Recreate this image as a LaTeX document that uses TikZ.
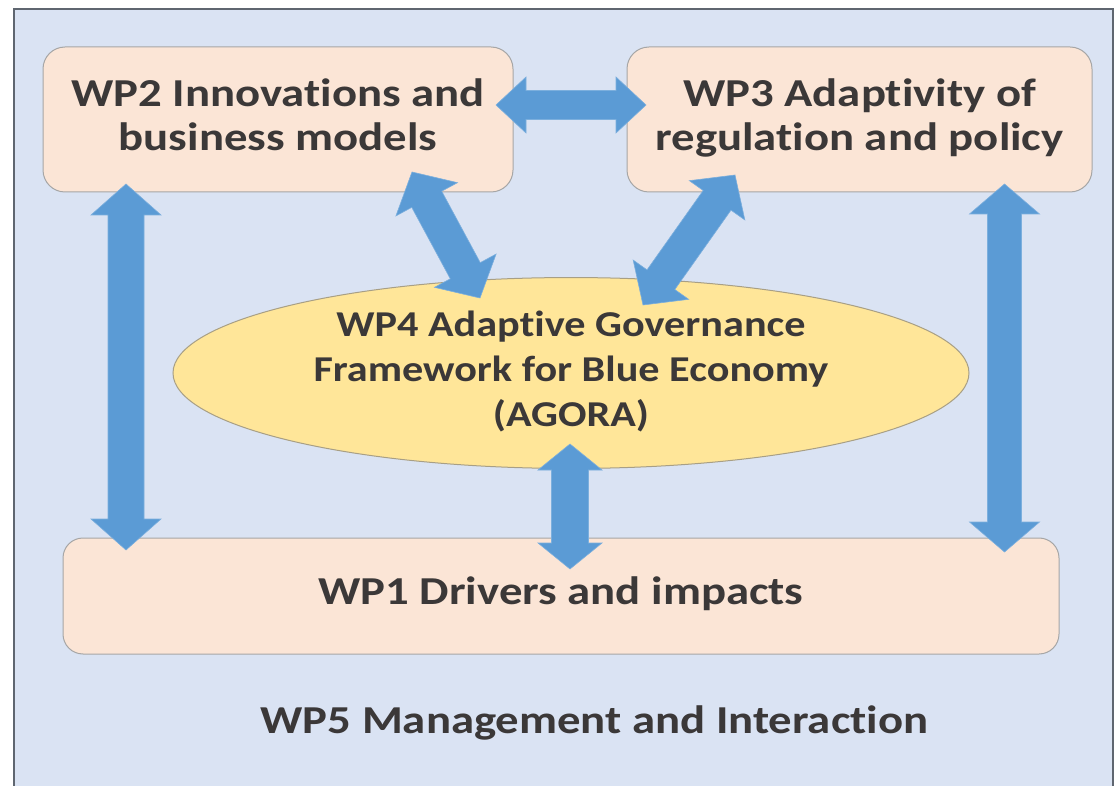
\documentclass[tikz,border=0pt]{standalone}
\usepackage{fontspec}
\setmainfont{Carlito}[Ligatures=NoCommon]
\usepackage{graphicx}
\usetikzlibrary{calc,shapes.geometric}
\definecolor{bgblue}{HTML}{DAE3F3}
\definecolor{peach}{HTML}{FBE5D6}
\definecolor{goldfill}{HTML}{FFE699}
\definecolor{arrowblue}{HTML}{5B9BD5}
\definecolor{txtgray}{HTML}{3B3838}
\definecolor{framegray}{HTML}{5F6670}
\definecolor{boxline}{HTML}{A6A6A6}
\definecolor{ellline}{HTML}{A89F85}
\newcommand\wplines[4]{%
  \scalebox{#1}[1]{\fontsize{#2}{#3}\selectfont\bfseries
  \begin{tabular}{@{}c@{}}#4\end{tabular}}}
\newcommand\barrow[5]{%
  \coordinate (ba) at ($(#1)!#5!(#2)$);
  \coordinate (bb) at ($(#2)!#5!(#1)$);
  \filldraw[blockarrow] (#1) -- ($(ba)!#4!90:(#2)$) -- ($(ba)!#3!90:(#2)$)
    -- ($(bb)!#3!-90:(#1)$) -- ($(bb)!#4!-90:(#1)$) -- (#2)
    -- ($(bb)!#4!90:(#1)$) -- ($(bb)!#3!90:(#1)$)
    -- ($(ba)!#3!-90:(#2)$) -- ($(ba)!#4!-90:(#2)$) -- cycle;}
\tikzset{
  wpbox/.style={draw=boxline, line width=1pt, fill=peach, rounded corners=22pt,
    text=txtgray, inner sep=0pt},
  wpell/.style={ellipse, draw=ellline, line width=1pt, fill=goldfill,
    text=txtgray, inner sep=0pt},
  blockarrow/.style={fill=arrowblue, draw=arrowblue!80!white, line width=0.6pt, line join=miter},
  framebox/.style={draw=framegray, line width=2pt, fill=bgblue}
}
\begin{document}
\begin{tikzpicture}[x=1pt, y=-1pt]
\useasboundingbox (0,0) rectangle (1120,786);
\clip (0,0) rectangle (1120,786);
\fill[white] (0,0) rectangle (1120,786);
\draw[framebox] (14,9) rectangle (1113,800);

\node[wpbox, minimum width=470pt, minimum height=145pt] (wp2) at (278,119.5)
  {\wplines{1.18}{39.6}{44}{WP2 Innovations and\\business models}};
\node[wpbox, minimum width=465pt, minimum height=145pt] (wp3) at (859.5,119.5)
  {\wplines{1.18}{39.6}{44}{WP3 Adaptivity of\\regulation and policy}};
\node[wpell, minimum width=796pt, minimum height=190pt] (wp4) at (571,373)
  {\wplines{1.16}{36.4}{45}{WP4 Adaptive Governance\\Framework for Blue Economy\\(AGORA)}};
\node[wpbox, rounded corners=20pt, minimum width=996pt, minimum height=116pt] (wp1) at (561,596)
  {\wplines{1.18}{39.6}{44}{WP1 Drivers and impacts}};
\node[text=txtgray, inner sep=0pt] (wp5) at (594.5,724.2)
  {\wplines{1.18}{39.6}{44}{WP5 Management and Interaction}};

\coordinate (h2) at (496,105);
\coordinate (h3) at (646,105);
\coordinate (l2) at (126,184);
\coordinate (l1) at (126,550);
\coordinate (r3) at (1004.5,184);
\coordinate (r1) at (1004.5,552);
\coordinate (m4) at (570,444);
\coordinate (m1) at (570,569);
\coordinate (d2) at (412,172);
\coordinate (d24) at (480,298);
\coordinate (d3) at (735,175);
\coordinate (d34) at (643,305);

\barrow{h2}{h3}{14.5pt}{28pt}{30pt}
\barrow{l2}{l1}{18pt}{35pt}{31pt}
\barrow{r3}{r1}{17pt}{35pt}{30pt}
\barrow{m4}{m1}{18.5pt}{32pt}{26pt}
\barrow{d2}{d24}{17pt}{35pt}{31pt}
\barrow{d3}{d34}{17pt}{34pt}{31pt}
\end{tikzpicture}
\end{document}
